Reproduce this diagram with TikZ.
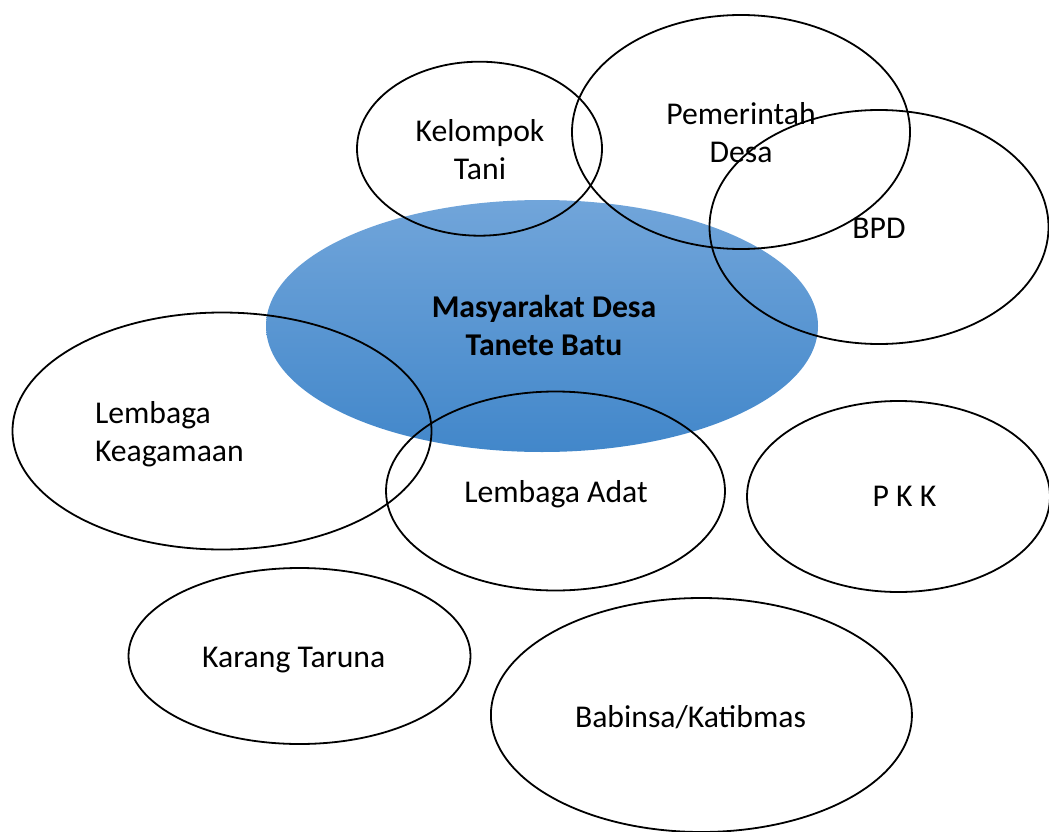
\documentclass[tikz,border=0pt]{standalone}
\usepackage{fontspec}
\setmainfont{Carlito}
\usetikzlibrary{shapes.geometric}
\definecolor{bluetop}{RGB}{113,165,218}
\definecolor{bluebot}{RGB}{66,135,202}
\tikzset{
  ring/.style={ellipse, draw=black, line width=1.8pt, inner sep=0pt, outer sep=0pt},
  core/.style={ellipse, draw=none, top color=bluetop, bottom color=bluebot, inner sep=0pt, outer sep=0pt},
  lbl/.style={inner sep=0pt, outer sep=0pt, font=\fontsize{31.7}{38}\selectfont, align=center, anchor=base},
  lblb/.style={lbl, font=\fontsize{31.7}{38}\selectfont\bfseries}
}
\begin{document}
\begin{tikzpicture}[x=1pt, y=-1pt]
\useasboundingbox (0,0) rectangle (1049,832);
% central filled ellipse
\node[core, minimum width=552pt, minimum height=252pt] (md) at (542,326) {};
% outline ellipses
\node[ring, minimum width=245pt, minimum height=174pt] (kt) at (479.5,148.7) {};
\node[ring, minimum width=338pt, minimum height=234pt] (pd) at (741,132) {};
\node[ring, minimum width=339pt, minimum height=234pt] (bpd) at (879,227) {};
\node[ring, minimum width=419pt, minimum height=237pt] (lk) at (222,431) {};
\node[ring, minimum width=339pt, minimum height=199pt] (la) at (555.5,491) {};
\node[ring, minimum width=303pt, minimum height=191pt] (pkk) at (898.5,496.5) {};
\node[ring, minimum width=342pt, minimum height=176pt] (kr) at (299.5,656) {};
\node[ring, minimum width=421pt, minimum height=234pt] (bk) at (701.4,715) {};
% labels (multi-line nodes: base = baseline of last line)
\node[lblb] (tmd) at (544,355.7) {Masyarakat Desa\\Tanete Batu};
\node[lbl] (tkt) at (480,179) {Kelompok\\Tani};
\node[lbl] (tpd) at (741,162.7) {Pemerintah\\Desa};
\node[lbl] (tbpd) at (879,238.3) {BPD};
\node[lbl, align=left, anchor=base west] (tlk) at (95,461.7) {Lembaga\\Keagamaan};
\node[lbl] (tla) at (556,502.7) {Lembaga Adat};
\node[lbl] (tpkk) at (904.4,506.7) {P K K};
\node[lbl] (tkr) at (293.7,667) {Karang Taruna};
\node[lbl] (tbk) at (690.5,727.7) {Babinsa/Katibmas};
\end{tikzpicture}
\end{document}
